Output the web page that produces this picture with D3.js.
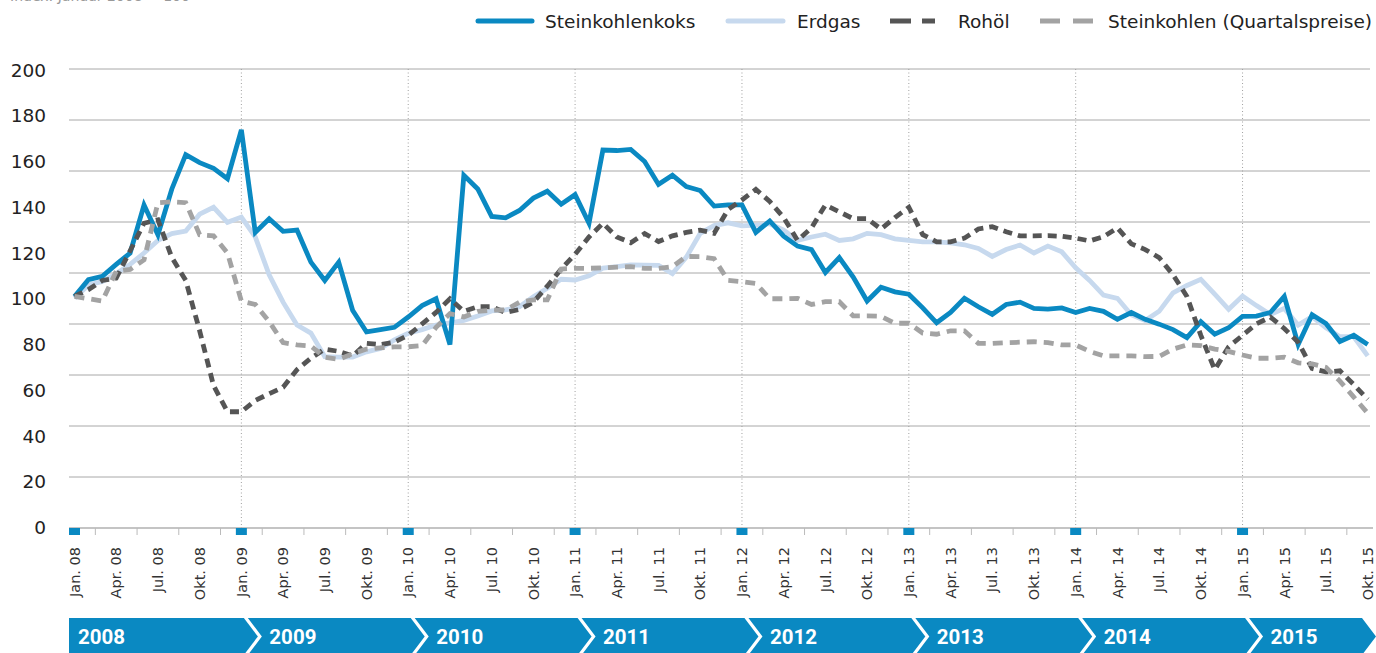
<!DOCTYPE html>
<html>
<head>
<meta charset="utf-8">
<script src="https://d3js.org/d3.v7.min.js"></script>
<style>
  body { margin: 0; background: #fff; }
  svg { display: block; font-family: "DejaVu Sans", sans-serif; }
</style>
</head>
<body>
<script>
var svgWidth = 1376;
var svgHeight = 653;

// Data (index, Jan. 08 = 100), one value per month Jan. 08 - Okt. 15
var years = ["2008", "2009", "2010", "2011", "2012", "2013", "2014", "2015"];
var quarterLabels = ["Jan.", "Apr.", "Jul.", "Okt."];
var yTicks = [0, 20, 40, 60, 80, 100, 120, 140, 160, 180, 200];
var seriesNames = ["Steinkohlenkoks", "Erdgas", "Rohöl", "Steinkohlen (Quartalspreise)"];

var koks = [
  101, 108.3, 109.8, 115, 120, 141, 128, 148, 163, 159.5, 157, 152.5,
  173.8, 129, 135, 129.5, 130, 116, 108, 116, 95, 85.5, 86.5, 87.5,
  92, 97, 100, 80, 154, 148, 136, 135.4, 138.6, 144, 147, 141.3,
  145.5, 133, 165, 164.8, 165.3, 160, 150, 154, 149, 147.3, 140.5, 141,
  141, 129, 134, 127.4, 123, 121.5, 111.5, 118, 109.5, 99, 105, 103,
  102, 96, 89.5, 94, 100.2, 96.5, 93.2, 97.5, 98.5, 95.8, 95.5, 96,
  94, 95.8, 94.5, 91, 94, 91, 88.9, 86.5, 83, 90, 84.5, 87.3,
  92.3, 92.4, 94, 101, 80, 93, 89.2, 81.3, 84, 80
];

var erdgas = [
  100.2, 106, 107.5, 111, 115, 120, 125.5, 128.5, 129.6, 137, 140, 133.4,
  135.7, 127, 110.5, 98.5, 88.5, 85, 74.7, 74.5, 74.5, 76.8, 78.3, 82,
  84.9, 86.5, 88.5, 89.4, 90.5, 92.5, 94.7, 95.1, 96.5, 100.9, 104.6, 108.5,
  108.2, 110, 113.4, 114, 114.8, 114.7, 114.6, 111, 118.2, 128.6, 132, 133.2,
  131.9, 132.2, 132.8, 130, 125.5, 127, 128.2, 125.5, 126.2, 128.6, 128, 126.2,
  125.5, 124.9, 124.9, 124.4, 123.6, 122, 118.5, 121.5, 123.5, 120, 123, 120.5,
  113.5, 108, 101.6, 100.2, 93, 90.5, 94.5, 102.6, 105.8, 108.5, 102, 95.4,
  101.2, 97, 93.1, 95.8, 88.5, 92.2, 87.3, 83.4, 83.4, 75
];

var rohoel = [
  101, 104, 108, 109, 121, 133, 134.5, 118, 108, 86, 62, 50.6,
  50.6, 55.5, 58.5, 61.3, 69, 74, 78, 77, 75, 80.5, 80, 81,
  84, 89, 94, 100, 94.5, 96.5, 96.5, 94, 95.3, 98.5, 105.5, 113,
  119.5, 127, 133, 127, 124.5, 128.5, 125, 127.5, 129, 130, 128.6, 139,
  143.2, 147.8, 142.5, 135.5, 125.5, 131, 141, 138, 135, 135, 130.5, 135.5,
  140, 128, 124.9, 124.9, 126.5, 130.5, 131.5, 129.3, 127.5, 127.5, 127.6, 127.3,
  126.5, 125.3, 127.1, 131, 124, 121.5, 118, 110.5, 101, 84, 69, 79,
  84, 89, 92, 87, 81, 69.5, 68, 68.5, 62.5, 56
];

var steinkohlen = [
  101, 100, 99, 112, 112.8, 117, 142, 142.4, 142, 128, 127.5, 120,
  99, 97.5, 90, 80.8, 79.8, 79.3, 74.4, 73.5, 76, 78, 78.5, 79,
  79, 79.5, 87.5, 93.5, 92, 94.5, 95, 95.1, 98.5, 99.5, 99.5, 113,
  113.3, 113.3, 113.5, 113.8, 114, 113.3, 113.3, 114, 118.5, 118.4, 117.5, 108,
  107.5, 106.7, 100, 100, 100.2, 97.5, 98.7, 98.7, 92.5, 92.5, 92.3, 89.3,
  89.3, 85, 84.5, 86, 86, 80.5, 80.5, 80.8, 81, 81.2, 80.8, 79.8,
  79.8, 77, 75, 75, 75, 74.7, 74.8, 78, 79.8, 79.5, 78, 77,
  75.4, 74, 74, 74.5, 72, 71.5, 70, 64, 57, 50
];

var seriesData = [koks, erdgas, rohoel, steinkohlen];
var seriesStyle = [
  { color: "#0a89c2", dash: null },
  { color: "#c7d9ee", dash: null },
  { color: "#555555", dash: "9,6" },
  { color: "#a3a3a3", dash: "10,7" }
];

var svg = d3.select("body")
  .append("svg")
  .attr("width", svgWidth)
  .attr("height", svgHeight);

// scales
var xScale = d3.scaleLinear().domain([0, 93]).range([74.5, 1367.7]);
var yScale = d3.scaleLinear().domain([0, 200]).range([527.5, 70]);
// the grid in the original has 9 bands, not 10
var gridScale = d3.scaleLinear().domain([0, 9]).range([528, 69]);

// note at the very top, mostly outside the picture in the original
svg.append("text")
  .attr("x", 10)
  .attr("y", 0.8)
  .attr("font-size", 14)
  .attr("fill", "#999")
  .text("Index: Januar 2008 = 100");

// gridlines
svg.append("g").selectAll("line")
  .data(d3.range(1, 10))
  .enter()
  .append("line")
  .attr("x1", 69).attr("x2", 1370)
  .attr("y1", d => gridScale(d)).attr("y2", d => gridScale(d))
  .attr("stroke", "#a8a8a8")
  .attr("stroke-width", 1);

// dotted year separators
svg.append("g").selectAll("line")
  .data(d3.range(12, 94, 12))
  .enter()
  .append("line")
  .attr("x1", d => xScale(d)).attr("x2", d => xScale(d))
  .attr("y1", 69).attr("y2", 528)
  .attr("stroke", "#a0a0a0")
  .attr("stroke-width", 1)
  .attr("stroke-dasharray", "1,2.5");

// x axis line, ticks, january markers
svg.append("line")
  .attr("x1", 69).attr("x2", 1373)
  .attr("y1", gridScale(0)).attr("y2", gridScale(0))
  .attr("stroke", "#b0b0b0")
  .attr("stroke-width", 1.5);

svg.append("g").selectAll("line")
  .data(d3.range(1.5, 93, 3))
  .enter()
  .append("line")
  .attr("x1", d => xScale(d)).attr("x2", d => xScale(d))
  .attr("y1", 528).attr("y2", 535)
  .attr("stroke", "#bbbbbb")
  .attr("stroke-width", 1);

svg.append("g").selectAll("rect")
  .data(d3.range(0, 94, 12))
  .enter()
  .append("rect")
  .attr("x", d => xScale(d) - 5.5)
  .attr("y", 528)
  .attr("width", 11)
  .attr("height", 7)
  .attr("fill", "#0a89c2");

// x labels (rotated)
svg.append("g").selectAll("text")
  .data(d3.range(0, 94, 3))
  .enter()
  .append("text")
  .attr("transform", d => `translate(${xScale(d)}, 547) rotate(-90)`)
  .attr("dy", "0.36em")
  .attr("text-anchor", "end")
  .attr("font-size", 14.5)
  .attr("fill", "#333")
  .text(d => quarterLabels[(d % 12) / 3] + " " + years[Math.floor(d / 12)].slice(2));

// y labels
svg.append("g").selectAll("text")
  .data(yTicks)
  .enter()
  .append("text")
  .attr("x", 46)
  .attr("y", d => yScale(d))
  .attr("dy", "0.36em")
  .attr("text-anchor", "end")
  .attr("font-size", 18.5)
  .attr("fill", "#222")
  .text(d => d);

// lines
var line = d3.line()
  .x((d, i) => xScale(i))
  .y(d => yScale(d));

var drawOrder = [1, 0, 2, 3];
drawOrder.forEach(function(s) {
  svg.append("path")
    .datum(seriesData[s])
    .attr("d", line)
    .attr("fill", "none")
    .attr("stroke", seriesStyle[s].color)
    .attr("stroke-width", 4.8)
    .attr("stroke-linejoin", "miter")
    .attr("stroke-dasharray", seriesStyle[s].dash);
});

// legend
var legendPos = [
  { x1: 478, x2: 532, tx: 545, dash: null, cap: "round" },
  { x1: 728, x2: 783, tx: 797, dash: null, cap: "round" },
  { x1: 890, x2: 935, tx: 958, dash: "21,11", cap: "butt" },
  { x1: 1040, x2: 1093, tx: 1108, dash: "20,13", cap: "butt" }
];
seriesNames.forEach(function(name, i) {
  var p = legendPos[i];
  svg.append("line")
    .attr("x1", p.x1).attr("x2", p.x2)
    .attr("y1", 21).attr("y2", 21)
    .attr("stroke", seriesStyle[i].color)
    .attr("stroke-width", 5)
    .attr("stroke-linecap", p.cap)
    .attr("stroke-dasharray", p.dash);
  svg.append("text")
    .attr("x", p.tx)
    .attr("y", 21)
    .attr("dy", "0.36em")
    .attr("font-size", 18.5)
    .attr("fill", "#222")
    .text(name);
});

// year band with chevrons
var bandTop = 618, bandBottom = 655, bandMid = 636.5, depth = 14;
var band = svg.append("g");
years.forEach(function(yr, i) {
  var left = i == 0 ? 69 : xScale(12 * i) + 6.5;
  var right = i == years.length - 1 ? 1362 : xScale(12 * (i + 1)) + 2.5;
  var pts = [[left, bandTop], [right, bandTop], [right + depth, bandMid], [right, bandBottom], [left, bandBottom]];
  if (i > 0) pts.push([left + depth, bandMid]);
  band.append("path")
    .attr("d", "M" + pts.map(p => p.join(",")).join("L") + "Z")
    .attr("fill", "#0a89c2");
  band.append("text")
    .attr("x", i == 0 ? 78 : xScale(12 * i) + 28)
    .attr("y", 644)
    .attr("font-family", "Roboto, sans-serif")
    .attr("font-weight", "bold")
    .attr("font-size", 20.5)
    .attr("fill", "#fff")
    .text(yr);
});
</script>
</body>
</html>
